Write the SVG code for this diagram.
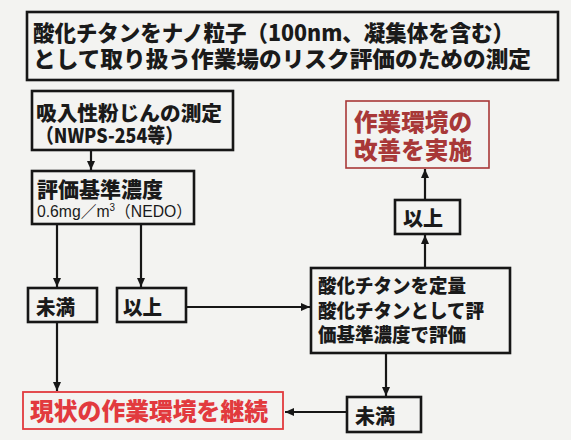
<svg xmlns="http://www.w3.org/2000/svg" width="571" height="440" viewBox="0 0 571 440">
<defs>
<style>
.bg{fill:#f3f3f1}
.box{fill:none;stroke:#161616;stroke-width:2.6}
.rbox{fill:none;stroke:#e23a3e;stroke-width:1.8}
.dbox{fill:none;stroke:#a83838;stroke-width:1.6}
.t{font-family:"Noto Sans CJK JP","Noto Sans",sans-serif;font-weight:900;fill:#1a1a1a}
.n{font-family:"Liberation Sans","Noto Sans CJK JP",sans-serif;font-weight:normal;fill:#1a1a1a}
.red{fill:#e23a3e}
.dred{fill:#a83838}
.c{fill:none;stroke:#161616;stroke-width:2.2}
</style>
<marker id="ah" markerUnits="userSpaceOnUse" markerWidth="10" markerHeight="10" refX="9" refY="4" orient="auto">
<path d="M0,0 L9,4 L0,8 Z" fill="#161616"/>
</marker>
</defs>
<rect class="bg" x="0" y="0" width="571" height="440"/>

<g id="title">
<rect class="box" x="27" y="12" width="531" height="68"/>
<text class="t" font-size="22"><tspan x="33" y="41" textLength="481" lengthAdjust="spacingAndGlyphs">酸化チタンをナノ粒子（100nm、凝集体を含む）</tspan><tspan x="33" y="67" textLength="498" lengthAdjust="spacingAndGlyphs">として取り扱う作業場のリスク評価のための測定</tspan></text>
</g>

<g id="measure">
<rect class="box" x="32" y="91" width="201" height="59"/>
<text class="t" font-size="20"><tspan x="36" y="121" textLength="186" lengthAdjust="spacingAndGlyphs">吸入性粉じんの測定</tspan><tspan x="36" y="143" textLength="147" lengthAdjust="spacingAndGlyphs">（NWPS-254等）</tspan></text>
</g>

<g id="criteria">
<rect class="box" x="32" y="171" width="162" height="53"/>
<text class="t" x="37" y="197" font-size="21" textLength="126" lengthAdjust="spacingAndGlyphs">評価基準濃度</text>
<text class="n" x="37" y="217" font-size="16" textLength="155" lengthAdjust="spacingAndGlyphs">0.6mg／m<tspan font-size="10" dy="-6">3</tspan><tspan dy="6">（NEDO）</tspan></text>
</g>

<g id="below-left">
<rect class="box" x="28" y="288" width="69" height="34"/>
<text class="t" x="36" y="315" font-size="20" textLength="39" lengthAdjust="spacingAndGlyphs">未満</text>
</g>

<g id="above-left">
<rect class="box" x="117" y="288" width="69" height="34"/>
<text class="t" x="123" y="315" font-size="20" textLength="39" lengthAdjust="spacingAndGlyphs">以上</text>
</g>

<g id="tio2">
<rect class="box" x="311" y="268" width="199" height="85"/>
<text class="t" font-size="19.5"><tspan x="318" y="293" textLength="148" lengthAdjust="spacingAndGlyphs">酸化チタンを定量</tspan><tspan x="318" y="318" textLength="166" lengthAdjust="spacingAndGlyphs">酸化チタンとして評</tspan><tspan x="318" y="342" textLength="148" lengthAdjust="spacingAndGlyphs">価基準濃度で評価</tspan></text>
</g>

<g id="above-right">
<rect class="box" x="395" y="200" width="65" height="34"/>
<text class="t" x="403" y="226" font-size="20" textLength="40" lengthAdjust="spacingAndGlyphs">以上</text>
</g>

<g id="improve">
<rect class="dbox" x="346" y="101" width="143" height="67"/>
<text class="t dred" font-size="24"><tspan x="354" y="131" textLength="118" lengthAdjust="spacingAndGlyphs">作業環境の</tspan><tspan x="354" y="159" textLength="118" lengthAdjust="spacingAndGlyphs">改善を実施</tspan></text>
</g>

<g id="below-right">
<rect class="box" x="347" y="397" width="74" height="35"/>
<text class="t" x="355" y="424" font-size="20" textLength="40" lengthAdjust="spacingAndGlyphs">未満</text>
</g>

<g id="continue">
<rect class="rbox" x="23" y="392" width="260" height="37"/>
<text class="t red" x="30" y="420" font-size="24" textLength="238" lengthAdjust="spacingAndGlyphs">現状の作業環境を継続</text>
</g>

<g id="connectors">
<line class="c" x1="91" y1="150" x2="91" y2="170" marker-end="url(#ah)"/>
<line class="c" x1="57" y1="224" x2="57" y2="287" marker-end="url(#ah)"/>
<line class="c" x1="141" y1="224" x2="141" y2="287" marker-end="url(#ah)"/>
<line class="c" x1="186" y1="307" x2="310" y2="307" marker-end="url(#ah)"/>
<line class="c" x1="57" y1="322" x2="57" y2="391" marker-end="url(#ah)"/>
<line class="c" x1="425" y1="268" x2="425" y2="235" marker-end="url(#ah)"/>
<line class="c" x1="425" y1="200" x2="425" y2="169" marker-end="url(#ah)"/>
<line class="c" x1="386" y1="353" x2="386" y2="396" marker-end="url(#ah)"/>
<line class="c" x1="347" y1="412" x2="285" y2="412" marker-end="url(#ah)"/>
</g>
</svg>
